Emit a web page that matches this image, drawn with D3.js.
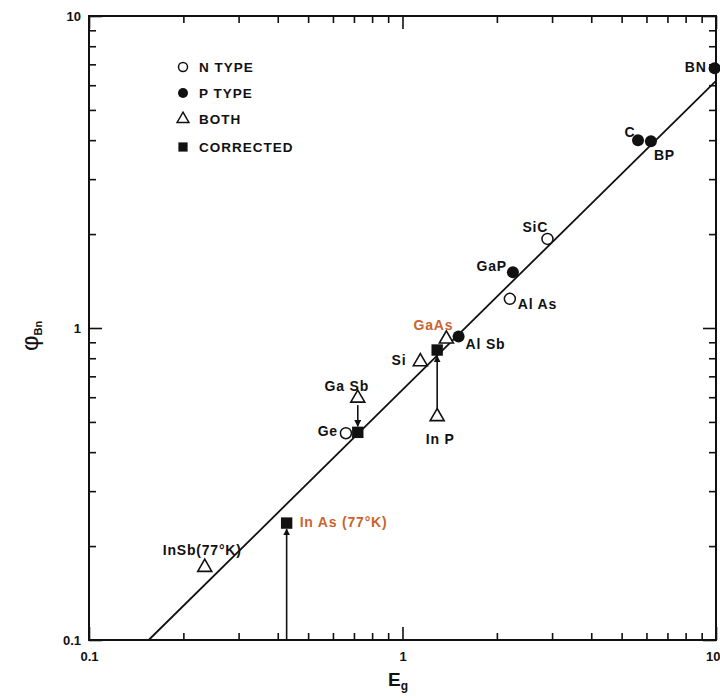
<!DOCTYPE html>
<html>
<head>
<meta charset="utf-8">
<script src="https://cdn.jsdelivr.net/npm/d3@7"></script>
<style>
  html, body { margin: 0; padding: 0; background: #fff; }
  svg { display: block; }
  text { font-family: "Liberation Sans", Arial, sans-serif; fill: #111; }
</style>
</head>
<body>
<svg id="chart" width="720" height="698"></svg>
<script>
// ---------------- DATA ----------------
const nTypeNames = ["SiC", "Al As", "Ge"];
const nTypeEg    = [2.9, 2.2, 0.66];
const nTypePhi   = [1.93, 1.24, 0.46];

const pTypeNames = ["BN", "C", "BP", "GaP", "Al Sb"];
const pTypeEg    = [9.9, 5.64, 6.2, 2.25, 1.51];
const pTypePhi   = [6.8, 4.0, 3.97, 1.51, 0.94];

const bothNames  = ["GaAs", "Si", "In P", "Ga Sb", "InSb(77°K)"];
const bothEg     = [1.38, 1.14, 1.29, 0.72, 0.234];
const bothPhi    = [0.922, 0.78, 0.52, 0.596, 0.171];

const corrNames  = ["In P (corr)", "Ga Sb (corr)", "In As (77°K)"];
const corrEg     = [1.29, 0.72, 0.427];
const corrPhi    = [0.85, 0.463, 0.237];
// arrows: start phi -> corrected phi (same Eg)
const arrowEg       = [1.29, 0.72, 0.427];
const arrowFromPhi  = [0.52, 0.596, 0.1];
const arrowToPhi    = [0.85, 0.463, 0.237];

// fitted line
const fitEg  = [0.155, 10];
const fitPhi = [0.1, 6.2];

const xMajor = [0.1, 1, 10];
const yMajor = [0.1, 1, 10];
const xMinor = [0.2,0.3,0.4,0.5,0.6,0.7,0.8,0.9,2,3,4,5,6,7,8,9];
const yMinor = [0.2,0.3,0.4,0.5,0.6,0.7,0.8,0.9,2,3,4,5,6,7,8,9];
const xTickLabels = ["0.1", "1", "10"];
const yTickLabels = ["0.1", "1", "10"];

const legendLabels = ["N TYPE", "P TYPE", "BOTH", "CORRECTED"];

// ---------------- LAYOUT / STYLE ----------------
const L = 89, R = 716, T = 16, B = 640;
const orange = "#c9642c";
const labelStyle = {
  "SiC":        {dx: -25, dy: -12, anchor: "start"},
  "Al As":      {dx: 8,   dy: 5,   anchor: "start"},
  "Ge":         {dx: -8,  dy: -2,  anchor: "end"},
  "BN":         {dx: -8,  dy: -1,  anchor: "end"},
  "C":          {dx: -8,  dy: -8,  anchor: "middle"},
  "BP":         {dx: 3,   dy: 14,  anchor: "start"},
  "GaP":        {dx: -6,  dy: -6,  anchor: "end"},
  "Al Sb":      {dx: 7,   dy: 8,   anchor: "start"},
  "GaAs":       {dx: 7,   dy: -14, anchor: "end", color: orange},
  "Si":         {dx: -14, dy: -2,  anchor: "end"},
  "In P":       {dx: 3,   dy: 22,  anchor: "middle"},
  "Ga Sb":      {dx: -11, dy: -12, anchor: "middle"},
  "InSb(77°K)": {dx: -42, dy: -17, anchor: "start"},
  "In As (77°K)": {dx: 13, dy: -1, anchor: "start", color: orange}
};

const svg = d3.select("#chart");
const x = d3.scaleLog().domain([0.1, 10]).range([L, R]);
const y = d3.scaleLog().domain([0.1, 10]).range([B, T]);

// defs: arrowheads
const defs = svg.append("defs");
defs.append("marker").attr("id", "arr")
  .attr("viewBox", "0 0 10 10").attr("refX", 9).attr("refY", 5)
  .attr("markerWidth", 7).attr("markerHeight", 7).attr("markerUnits", "userSpaceOnUse")
  .attr("orient", "auto")
  .append("path").attr("d", "M0,0 L10,5 L0,10 Z").attr("fill", "#111");

// axes (ticks inward)
function styleAxis(g) {
  g.select(".domain").remove();
  g.selectAll("line").attr("stroke", "#111").attr("stroke-width", 1.6);
  g.selectAll("text").attr("font-size", 13).attr("font-weight", "bold").attr("fill", "#111");
}
svg.append("g").attr("transform", `translate(0,${B})`)
  .call(d3.axisBottom(x).tickValues(xMinor).tickSize(-7).tickFormat("")).call(styleAxis);
const xAxG = svg.append("g").attr("transform", `translate(0,${B})`)
  .call(d3.axisBottom(x).tickValues(xMajor).tickSize(-13).tickPadding(12)
    .tickFormat((d, i) => xTickLabels[i])).call(styleAxis);
xAxG.selectAll(".tick text").filter((d) => d === 10).attr("text-anchor", "end").attr("dx", 4);
svg.append("g").attr("transform", `translate(0,${T})`)
  .call(d3.axisTop(x).tickValues(xMinor).tickSize(-7).tickFormat("")).call(styleAxis);
svg.append("g").attr("transform", `translate(0,${T})`)
  .call(d3.axisTop(x).tickValues(xMajor).tickSize(-13).tickFormat("")).call(styleAxis);
svg.append("g").attr("transform", `translate(${L},0)`)
  .call(d3.axisLeft(y).tickValues(yMinor).tickSize(-7).tickFormat("")).call(styleAxis);
svg.append("g").attr("transform", `translate(${L},0)`)
  .call(d3.axisLeft(y).tickValues(yMajor).tickSize(-13).tickPadding(8)
    .tickFormat((d, i) => yTickLabels[i])).call(styleAxis);
svg.append("g").attr("transform", `translate(${R},0)`)
  .call(d3.axisRight(y).tickValues(yMinor).tickSize(-7).tickFormat("")).call(styleAxis);
svg.append("g").attr("transform", `translate(${R},0)`)
  .call(d3.axisRight(y).tickValues(yMajor).tickSize(-13).tickFormat("")).call(styleAxis);

// frame
svg.append("rect").attr("x", L).attr("y", T).attr("width", R - L).attr("height", B - T)
  .attr("fill", "none").attr("stroke", "#111").attr("stroke-width", 2);

// axis titles
const xt = svg.append("text").attr("x", 398).attr("y", 686).attr("text-anchor", "middle")
  .attr("font-size", 19).attr("font-weight", "bold");
xt.append("tspan").text("E");
xt.append("tspan").attr("font-size", 12).attr("dy", 4).text("g");

const yt = svg.append("text").attr("transform", "translate(38,336) rotate(-90)")
  .attr("text-anchor", "middle").attr("font-size", 24);
yt.append("tspan").text("φ");
yt.append("tspan").attr("font-size", 11).attr("font-weight", "bold").attr("dy", 4).text("Bn");

// fit line
svg.append("line")
  .attr("x1", x(fitEg[0])).attr("y1", y(fitPhi[0]))
  .attr("x2", x(fitEg[1])).attr("y2", y(fitPhi[1]))
  .attr("stroke", "#111").attr("stroke-width", 1.8);

// arrows
arrowEg.forEach((e, i) => {
  const y0 = y(arrowFromPhi[i]), y1 = y(arrowToPhi[i]);
  const dir = y1 < y0 ? -1 : 1;
  const startOff = i === 2 ? 0 : 7;
  svg.append("line")
    .attr("x1", x(e)).attr("y1", y0 + dir * startOff)
    .attr("x2", x(e)).attr("y2", y1 - dir * 6)
    .attr("stroke", "#111").attr("stroke-width", 1.6)
    .attr("marker-end", "url(#arr)");
});

// markers
function addLabel(name, px, py) {
  const s = labelStyle[name];
  if (!s) return;
  svg.append("text").attr("x", px + s.dx).attr("y", py + s.dy + 5)
    .attr("text-anchor", s.anchor).attr("font-size", 14).attr("font-weight", "bold")
    .attr("letter-spacing", 0.8)
    .attr("fill", s.color || "#111").style("fill", s.color || "#111").text(name);
}
const tri = d3.symbol().type(d3.symbolTriangle).size(85);
const sq = d3.symbol().type(d3.symbolSquare).size(130);

nTypeNames.forEach((n, i) => {
  const px = x(nTypeEg[i]), py = y(nTypePhi[i]);
  svg.append("circle").attr("cx", px).attr("cy", py).attr("r", 5.5)
    .attr("fill", "#fff").attr("stroke", "#111").attr("stroke-width", 1.5);
  addLabel(n, px, py);
});
pTypeNames.forEach((n, i) => {
  const px = x(pTypeEg[i]), py = y(pTypePhi[i]);
  svg.append("circle").attr("cx", px).attr("cy", py).attr("r", 6)
    .attr("fill", "#111");
  addLabel(n, px, py);
});
bothNames.forEach((n, i) => {
  const px = x(bothEg[i]), py = y(bothPhi[i]);
  svg.append("path").attr("d", tri).attr("transform", `translate(${px},${py})`)
    .attr("fill", "#fff").attr("stroke", "#111").attr("stroke-width", 1.6);
  addLabel(n, px, py);
});
corrNames.forEach((n, i) => {
  const px = x(corrEg[i]), py = y(corrPhi[i]);
  svg.append("path").attr("d", sq).attr("transform", `translate(${px},${py})`)
    .attr("fill", "#111");
  addLabel(n, px, py);
});

// legend
const lgX = 183, lgY = [67, 93, 119, 147];
legendLabels.forEach((t, i) => {
  const g = svg.append("g").attr("transform", `translate(${lgX},${lgY[i]})`);
  if (i === 0) g.append("circle").attr("r", 4.5).attr("fill", "#fff").attr("stroke", "#111").attr("stroke-width", 1.5);
  if (i === 1) g.append("circle").attr("r", 5).attr("fill", "#111");
  if (i === 2) g.append("path").attr("d", d3.symbol().type(d3.symbolTriangle).size(60)).attr("fill", "#fff").attr("stroke", "#111").attr("stroke-width", 1.5);
  if (i === 3) g.append("path").attr("d", d3.symbol().type(d3.symbolSquare).size(85)).attr("fill", "#111");
  g.append("text").attr("x", 16).attr("y", 5).attr("font-size", 13.5).attr("font-weight", "bold")
    .attr("letter-spacing", 1).text(t);
});
</script>
</body>
</html>
